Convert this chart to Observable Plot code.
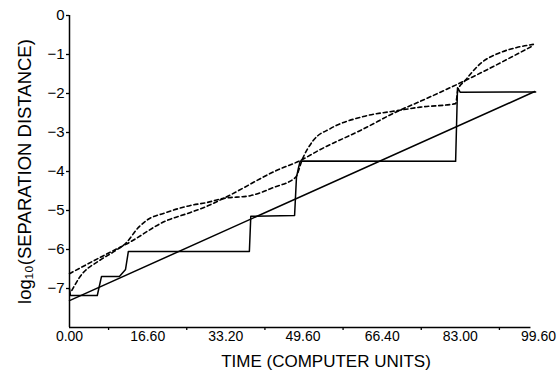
<!DOCTYPE html>
<html><head><meta charset="utf-8">
<script src="https://cdn.jsdelivr.net/npm/d3@7"></script>
<script src="https://cdn.jsdelivr.net/npm/@observablehq/plot@0.6"></script>
<style>body{margin:0;background:#fff} svg{display:block}</style>
</head><body><div id="chart"></div>
<script>
// Tick labels
const xTicks = [0, 16.6, 33.2, 49.6, 66.4, 83.0, 99.6];
const xMinorTicks = [8.3, 24.9, 41.5, 58.1, 74.7, 91.3];
const yTicks = [0, -1, -2, -3, -4, -5, -6, -7];
const xTitle = "TIME (COMPUTER UNITS)";
const yTitle = "log₁₀(SEPARATION DISTANCE)";

// Solid step curve
const stepT = [0, 0.2, 5.9, 6.8, 10.6, 11.9, 12.5, 38.2, 38.5, 47.8, 48.2, 48.6, 49.0, 82.0, 82.4, 83.0, 99.0];
const stepV = [-7.0, -7.18, -7.18, -6.69, -6.69, -6.51, -6.05, -6.05, -5.15, -5.13, -4.15, -3.92, -3.73, -3.74, -1.85, -1.97, -1.96];

// Solid straight line
const lineT = [0, 98.8];
const lineV = [-7.31, -1.95];

// Dashed curve A (nearly straight)
const dashAT = [0, 9.3, 12.1, 20.6, 25.7, 29.0, 32.7, 44.4, 49.0, 52.9, 62.4, 69.6, 74.5, 84.0, 98.5];
const dashAV = [-6.62, -6.03, -5.86, -5.26, -5.05, -4.90, -4.69, -3.95, -3.72, -3.46, -2.91, -2.46, -2.20, -1.67, -0.77];

// Dashed curve B (wavy)
const dashBT = [0.5, 2.1, 6.4, 9.5, 12.1, 14.6, 16.3, 20.6, 25.7, 29.0, 32.7, 38.4, 43.3, 48.0, 49.5, 51.8, 55.4, 62.4, 69.6, 74.5, 82.0, 82.5, 84.0, 87.3, 91.5, 95.0, 98.5];
const dashBV = [-7.05, -6.72, -6.28, -6.05, -5.82, -5.44, -5.26, -5.05, -4.87, -4.80, -4.69, -4.62, -4.41, -4.15, -3.67, -3.20, -2.90, -2.59, -2.44, -2.35, -2.26, -1.90, -1.67, -1.23, -0.95, -0.82, -0.74];

const rows = (t, v) => t.map((d, i) => ({t: d, v: v[i]}));

const chart = Plot.plot({
  width: 560, height: 379,
  marginLeft: 69, marginRight: 22, marginTop: 15, marginBottom: 52,
  style: {fontFamily: "Liberation Sans", fontSize: "13px", color: "black", background: "white"},
  x: {domain: [0, 99.6], label: null},
  y: {domain: [-8, 0], label: null},
  marks: [
    Plot.axisX({ticks: xTicks, tickFormat: d => d.toFixed(2), tickSize: 0, tickPadding: 4, fontSize: 14, label: null}),
    Plot.axisX({ticks: xMinorTicks, tickFormat: () => "", tickSize: 3, strokeWidth: 1.3, label: null}),
    Plot.axisY({ticks: yTicks, tickSize: 3, tickPadding: 2, fontSize: 15, strokeWidth: 1.3, label: null}),
    Plot.ruleY([-8], {x1: 0, x2: 98, strokeWidth: 1.5}),
    Plot.ruleX([0], {y1: -8, y2: 0, strokeWidth: 1.5}),
    Plot.line(rows(lineT, lineV), {x: "t", y: "v", stroke: "black", strokeWidth: 1.5}),
    Plot.line(rows(stepT, stepV), {x: "t", y: "v", stroke: "black", strokeWidth: 1.5}),
    Plot.line(rows(dashAT, dashAV), {x: "t", y: "v", stroke: "black", strokeWidth: 1.6, strokeDasharray: "4,3", curve: "monotone-x"}),
    Plot.line(rows(dashBT, dashBV), {x: "t", y: "v", stroke: "black", strokeWidth: 1.6, strokeDasharray: "4,3", curve: "monotone-x"}),
    Plot.text([xTitle], {frameAnchor: "bottom", textAnchor: "middle", dx: 22, dy: 39, fontSize: 17, fill: "black"}),
    Plot.text([yTitle], {frameAnchor: "left", textAnchor: "middle", rotate: -90, dx: -44, dy: 0, fontSize: 18.5, fill: "black"})
  ]
});
document.getElementById("chart").appendChild(chart);
</script>
</body></html>
